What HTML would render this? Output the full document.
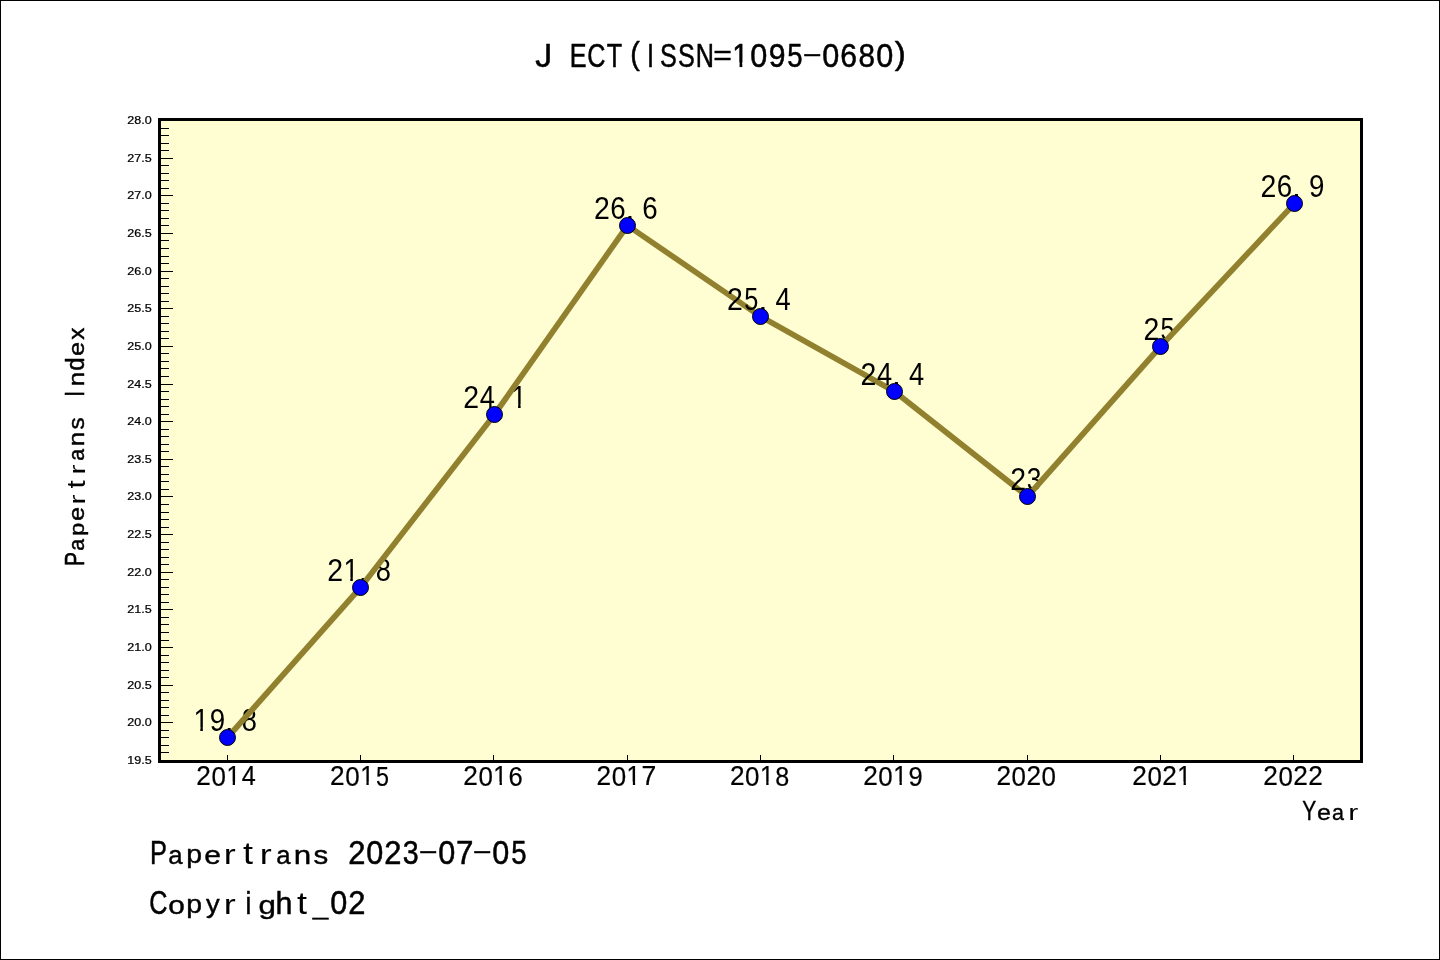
<!DOCTYPE html>
<html lang="en"><head><meta charset="utf-8"><title>J ECT(ISSN=1095-0680)</title>
<style>
html,body{margin:0;padding:0;background:#fff}
body{width:1440px;height:960px;overflow:hidden;font-family:"Liberation Sans",sans-serif}
#chart{position:absolute;left:0;top:0;width:1440px;height:960px;box-sizing:border-box;border:1px solid #000;background:#fff}
svg{position:absolute;left:-1px;top:-1px;display:block;will-change:transform;font-family:"Liberation Sans",sans-serif;fill:#000}
</style></head><body>
<div id="chart"><svg width="1440" height="960" viewBox="0 0 1440 960">
<defs><clipPath id="k30"><rect x="0" y="-30" width="30" height="26.25"/><rect x="7.47" y="-4.5" width="2.79" height="5.1"/></clipPath><clipPath id="k32"><rect x="0" y="-32" width="32" height="28"/><rect x="7.968" y="-4.8" width="2.976" height="5.44"/></clipPath><clipPath id="k36"><rect x="0" y="-36" width="36" height="31.5"/><rect x="8.964" y="-5.4" width="3.348" height="6.12"/></clipPath><clipPath id="kJ"><rect x="11.6" y="-36" width="12" height="40"/><rect x="-2" y="-21.5" width="20" height="26"/></clipPath></defs>
<rect x="159.5" y="119.5" width="1202" height="642" fill="#fffdd2" stroke="#000" stroke-width="3"/>
<path d="M161 752.5H169M161 745.5H169M161 737.5H169M161 730.5H169M161 722.5H173M161 715.5H169M161 707.5H169M161 700.5H169M161 692.5H169M161 685.5H173M161 677.5H169M161 670.5H169M161 662.5H169M161 655.5H169M161 647.5H173M161 640.5H169M161 632.5H169M161 624.5H169M161 617.5H169M161 609.5H173M161 602.5H169M161 594.5H169M161 587.5H169M161 579.5H169M161 572.5H173M161 564.5H169M161 557.5H169M161 549.5H169M161 542.5H169M161 534.5H173M161 527.5H169M161 519.5H169M161 512.5H169M161 504.5H169M161 496.5H173M161 489.5H169M161 481.5H169M161 474.5H169M161 466.5H169M161 459.5H173M161 451.5H169M161 444.5H169M161 436.5H169M161 429.5H169M161 421.5H173M161 414.5H169M161 406.5H169M161 399.5H169M161 391.5H169M161 384.5H173M161 376.5H169M161 368.5H169M161 361.5H169M161 353.5H169M161 346.5H173M161 338.5H169M161 331.5H169M161 323.5H169M161 316.5H169M161 308.5H173M161 301.5H169M161 293.5H169M161 286.5H169M161 278.5H169M161 271.5H173M161 263.5H169M161 256.5H169M161 248.5H169M161 240.5H169M161 233.5H173M161 225.5H169M161 218.5H169M161 210.5H169M161 203.5H169M161 195.5H173M161 188.5H169M161 180.5H169M161 173.5H169M161 165.5H169M161 158.5H173M161 150.5H169M161 143.5H169M161 135.5H169M161 128.5H169M227.5 755V760M360.5 755V760M493.5 755V760M627.5 755V760M760.5 755V760M893.5 755V760M1027.5 755V760M1160.5 755V760M1293.5 755V760" stroke="#000" stroke-width="1" fill="none" shape-rendering="crispEdges"/>
<g font-size="11.4" text-anchor="end" stroke="#000" stroke-width="0.25"><text transform="matrix(1.1 0 0 1 151.6 763.9)">19.5</text><text transform="matrix(1.1 0 0 1 151.6 725.9)">20.0</text><text transform="matrix(1.1 0 0 1 151.6 688.9)">20.5</text><text transform="matrix(1.1 0 0 1 151.6 650.9)">21.0</text><text transform="matrix(1.1 0 0 1 151.6 612.9)">21.5</text><text transform="matrix(1.1 0 0 1 151.6 575.9)">22.0</text><text transform="matrix(1.1 0 0 1 151.6 537.9)">22.5</text><text transform="matrix(1.1 0 0 1 151.6 499.9)">23.0</text><text transform="matrix(1.1 0 0 1 151.6 462.9)">23.5</text><text transform="matrix(1.1 0 0 1 151.6 424.9)">24.0</text><text transform="matrix(1.1 0 0 1 151.6 387.9)">24.5</text><text transform="matrix(1.1 0 0 1 151.6 349.9)">25.0</text><text transform="matrix(1.1 0 0 1 151.6 311.9)">25.5</text><text transform="matrix(1.1 0 0 1 151.6 274.9)">26.0</text><text transform="matrix(1.1 0 0 1 151.6 236.9)">26.5</text><text transform="matrix(1.1 0 0 1 151.6 198.9)">27.0</text><text transform="matrix(1.1 0 0 1 151.6 161.9)">27.5</text><text transform="matrix(1.1 0 0 1 151.6 123.9)">28.0</text></g>
<g aria-label="2014" font-size="30" stroke="#000" stroke-width="0.24" stroke-linejoin="round"><text transform="matrix(0.874 0 0 0.935 196.353 785.188)">2</text><text transform="matrix(0.864 0 0 0.95 211.508 785.508)">0</text><text transform="matrix(0.833 0 0 0.934 226.467 785.188)" clip-path="url(#k30)">1</text><text transform="matrix(0.84 0 0 0.934 241.789 785.188)">4</text></g>
<g aria-label="2015" font-size="30" stroke="#000" stroke-width="0.24" stroke-linejoin="round"><text transform="matrix(0.874 0 0 0.935 330.062 785.188)">2</text><text transform="matrix(0.864 0 0 0.95 345.216 785.508)">0</text><text transform="matrix(0.833 0 0 0.934 360.175 785.188)" clip-path="url(#k30)">1</text><text transform="matrix(0.778 0 0 0.949 376.034 785.508)">5</text></g>
<g aria-label="2016" font-size="30" stroke="#000" stroke-width="0.24" stroke-linejoin="round"><text transform="matrix(0.874 0 0 0.935 463.245 785.188)">2</text><text transform="matrix(0.864 0 0 0.95 478.399 785.508)">0</text><text transform="matrix(0.833 0 0 0.934 493.358 785.188)" clip-path="url(#k30)">1</text><text transform="matrix(0.852 0 0 0.95 508.412 785.508)">6</text></g>
<g aria-label="2017" font-size="30" stroke="#000" stroke-width="0.24" stroke-linejoin="round"><text transform="matrix(0.874 0 0 0.935 596.503 785.188)">2</text><text transform="matrix(0.864 0 0 0.95 611.658 785.508)">0</text><text transform="matrix(0.833 0 0 0.934 626.617 785.188)" clip-path="url(#k30)">1</text><text transform="matrix(0.886 0 0 0.934 641.46 785.188)">7</text></g>
<g aria-label="2018" font-size="30" stroke="#000" stroke-width="0.24" stroke-linejoin="round"><text transform="matrix(0.874 0 0 0.935 729.912 785.188)">2</text><text transform="matrix(0.864 0 0 0.95 745.066 785.508)">0</text><text transform="matrix(0.833 0 0 0.934 760.025 785.188)" clip-path="url(#k30)">1</text><text transform="matrix(0.838 0 0 0.95 775.283 785.508)">8</text></g>
<g aria-label="2019" font-size="30" stroke="#000" stroke-width="0.24" stroke-linejoin="round"><text transform="matrix(0.874 0 0 0.935 863.17 785.188)">2</text><text transform="matrix(0.864 0 0 0.95 878.324 785.508)">0</text><text transform="matrix(0.833 0 0 0.934 893.283 785.188)" clip-path="url(#k30)">1</text><text transform="matrix(0.851 0 0 0.95 908.588 785.508)">9</text></g>
<g aria-label="2020" font-size="30" stroke="#000" stroke-width="0.24" stroke-linejoin="round"><text transform="matrix(0.874 0 0 0.935 996.428 785.188)">2</text><text transform="matrix(0.864 0 0 0.95 1011.583 785.508)">0</text><text transform="matrix(0.874 0 0 0.935 1026.428 785.188)">2</text><text transform="matrix(0.864 0 0 0.95 1041.583 785.508)">0</text></g>
<g aria-label="2021" font-size="30" stroke="#000" stroke-width="0.24" stroke-linejoin="round"><text transform="matrix(0.874 0 0 0.935 1132.237 785.188)">2</text><text transform="matrix(0.864 0 0 0.95 1147.391 785.508)">0</text><text transform="matrix(0.874 0 0 0.935 1162.237 785.188)">2</text><text transform="matrix(0.833 0 0 0.934 1177.35 785.188)" clip-path="url(#k30)">1</text></g>
<g aria-label="2022" font-size="30" stroke="#000" stroke-width="0.24" stroke-linejoin="round"><text transform="matrix(0.874 0 0 0.935 1263.245 785.188)">2</text><text transform="matrix(0.864 0 0 0.95 1278.399 785.508)">0</text><text transform="matrix(0.874 0 0 0.935 1293.245 785.188)">2</text><text transform="matrix(0.874 0 0 0.935 1308.245 785.188)">2</text></g>
<g aria-label="19.8" font-size="32" stroke="#000" stroke-width="0" stroke-linejoin="round"><text transform="matrix(0.861 0 0 0.988 193.433 731.1)" clip-path="url(#k32)" stroke="none">1</text><text transform="matrix(0.866 0 0 1.003 209.818 731.427)" stroke="none">9</text><text transform="matrix(0.998 0 0 0.888 224.841 731.1)" stroke="none">.</text><text transform="matrix(0.852 0 0 1.003 241.771 731.427)" stroke="none">8</text></g>
<path d="M227.5 737.5L360.5 587.5" stroke="#91812f" stroke-width="5.7" fill="none"/>
<g aria-label="21.8" font-size="32" stroke="#000" stroke-width="0" stroke-linejoin="round"><text transform="matrix(0.889 0 0 0.988 327.339 581.1)" stroke="none">2</text><text transform="matrix(0.861 0 0 0.988 343.406 581.1)" clip-path="url(#k32)" stroke="none">1</text><text transform="matrix(0.998 0 0 0.888 358.815 581.1)" stroke="none">.</text><text transform="matrix(0.852 0 0 1.003 375.745 581.427)" stroke="none">8</text></g>
<path d="M360.5 587.5L494.5 414.5" stroke="#91812f" stroke-width="5.7" fill="none"/>
<g aria-label="24.1" font-size="32" stroke="#000" stroke-width="0" stroke-linejoin="round"><text transform="matrix(0.889 0 0 0.988 463.153 408.1)" stroke="none">2</text><text transform="matrix(0.853 0 0 0.988 479.637 408.1)" stroke="none">4</text><text transform="matrix(0.998 0 0 0.888 494.628 408.1)" stroke="none">.</text><text transform="matrix(0.861 0 0 0.988 511.219 408.1)" clip-path="url(#k32)" stroke="none">1</text></g>
<path d="M494.5 414.5L627.5 225.5" stroke="#91812f" stroke-width="5.7" fill="none"/>
<g aria-label="26.6" font-size="32" stroke="#000" stroke-width="0" stroke-linejoin="round"><text transform="matrix(0.889 0 0 0.988 594.006 219.1)" stroke="none">2</text><text transform="matrix(0.867 0 0 1.003 610.188 219.427)" stroke="none">6</text><text transform="matrix(0.998 0 0 0.888 625.481 219.1)" stroke="none">.</text><text transform="matrix(0.867 0 0 1.003 642.188 219.427)" stroke="none">6</text></g>
<path d="M627.5 225.5L760.5 316.5" stroke="#91812f" stroke-width="5.7" fill="none"/>
<g aria-label="25.4" font-size="32" stroke="#000" stroke-width="0" stroke-linejoin="round"><text transform="matrix(0.889 0 0 0.988 727.099 310.1)" stroke="none">2</text><text transform="matrix(0.791 0 0 1.003 744.157 310.426)" stroke="none">5</text><text transform="matrix(0.998 0 0 0.888 758.575 310.1)" stroke="none">.</text><text transform="matrix(0.853 0 0 0.988 775.583 310.1)" stroke="none">4</text></g>
<path d="M760.5 316.5L894.5 391.5" stroke="#91812f" stroke-width="5.7" fill="none"/>
<g aria-label="24.4" font-size="32" stroke="#000" stroke-width="0" stroke-linejoin="round"><text transform="matrix(0.889 0 0 0.988 860.433 385.1)" stroke="none">2</text><text transform="matrix(0.853 0 0 0.988 876.917 385.1)" stroke="none">4</text><text transform="matrix(0.998 0 0 0.888 891.908 385.1)" stroke="none">.</text><text transform="matrix(0.853 0 0 0.988 908.917 385.1)" stroke="none">4</text></g>
<path d="M894.5 391.5L1027.5 496.5" stroke="#91812f" stroke-width="5.7" fill="none"/>
<g aria-label="23" font-size="32" stroke="#000" stroke-width="0" stroke-linejoin="round"><text transform="matrix(0.889 0 0 0.988 1010.166 490.1)" stroke="none">2</text><text transform="matrix(0.823 0 0 1.003 1026.754 490.427)" stroke="none">3</text></g>
<path d="M1027.5 496.5L1160.5 346.5" stroke="#91812f" stroke-width="5.7" fill="none"/>
<g aria-label="25" font-size="32" stroke="#000" stroke-width="0" stroke-linejoin="round"><text transform="matrix(0.889 0 0 0.988 1143.499 340.1)" stroke="none">2</text><text transform="matrix(0.791 0 0 1.003 1160.557 340.426)" stroke="none">5</text></g>
<path d="M1160.5 346.5L1294.5 203.5" stroke="#91812f" stroke-width="5.7" fill="none"/>
<g aria-label="26.9" font-size="32" stroke="#000" stroke-width="0" stroke-linejoin="round"><text transform="matrix(0.889 0 0 0.988 1260.593 197.1)" stroke="none">2</text><text transform="matrix(0.867 0 0 1.003 1276.775 197.427)" stroke="none">6</text><text transform="matrix(0.998 0 0 0.888 1292.068 197.1)" stroke="none">.</text><text transform="matrix(0.866 0 0 1.003 1309.044 197.427)" stroke="none">9</text></g>
<circle cx="227.5" cy="737.5" r="8" fill="#00f" stroke="#000" stroke-width="1"/>
<circle cx="360.5" cy="587.5" r="8" fill="#00f" stroke="#000" stroke-width="1"/>
<circle cx="494.5" cy="414.5" r="8" fill="#00f" stroke="#000" stroke-width="1"/>
<circle cx="627.5" cy="225.5" r="8" fill="#00f" stroke="#000" stroke-width="1"/>
<circle cx="760.5" cy="316.5" r="8" fill="#00f" stroke="#000" stroke-width="1"/>
<circle cx="894.5" cy="391.5" r="8" fill="#00f" stroke="#000" stroke-width="1"/>
<circle cx="1027.5" cy="496.5" r="8" fill="#00f" stroke="#000" stroke-width="1"/>
<circle cx="1160.5" cy="346.5" r="8" fill="#00f" stroke="#000" stroke-width="1"/>
<circle cx="1294.5" cy="203.5" r="8" fill="#00f" stroke="#000" stroke-width="1"/>
<g aria-label="J ECT(ISSN=1095-0680)" font-size="36" stroke="#000" stroke-width="0.576" stroke-linejoin="round"><text transform="matrix(0.939 0 0 0.902 535.362 66.611)" clip-path="url(#kJ)">J</text> <text transform="matrix(0.7 0 0 0.903 569.852 66.64)">E</text><text transform="matrix(0.7 0 0 0.901 587.327 66.612)">C</text><text transform="matrix(0.7 0 0 0.903 606.86 66.64)">T</text><text transform="matrix(0.8 0 0 0.855 630.364 63.523)">(</text><text transform="matrix(0.7 0 0 0.903 646.959 66.64)">I</text><text transform="matrix(0.7 0 0 0.901 659.972 66.612)">S</text><text transform="matrix(0.7 0 0 0.901 677.972 66.612)">S</text><text transform="matrix(0.7 0 0 0.903 695.805 66.64)">N</text><text transform="matrix(0.887 0 0 0.777 713.237 64.537)">=</text><text transform="matrix(0.808 0 0 0.923 732.321 66.634)" clip-path="url(#k36)">1</text><text transform="matrix(0.85 0 0 0.939 750.309 67.019)">0</text><text transform="matrix(0.837 0 0 0.939 768.629 67.019)">9</text><text transform="matrix(0.765 0 0 0.939 787.278 67.02)">5</text><text transform="matrix(1.711 0 0 0.637 802.116 60.756)">-</text><text transform="matrix(0.85 0 0 0.939 822.309 67.019)">0</text><text transform="matrix(0.838 0 0 0.939 840.33 67.019)">6</text><text transform="matrix(0.824 0 0 0.939 858.568 67.019)">8</text><text transform="matrix(0.85 0 0 0.939 876.309 67.019)">0</text><text transform="matrix(0.918 0 0 0.855 894.863 63.523)">)</text></g>
<g aria-label="Year" font-size="30" stroke="#000" stroke-width="0.48" stroke-linejoin="round"><text transform="matrix(0.7 0 0 0.903 1302.197 820.083)">Y</text><text transform="matrix(0.833 0 0 0.732 1316.919 820.15)">e</text><text transform="matrix(0.717 0 0 0.732 1332.008 820.15)">a</text><text transform="matrix(1 0 0 0.743 1348.158 820.3)" stroke="none">r</text></g>
<g aria-label="Papertrans Index" font-size="30" stroke="#000" stroke-width="0.63" stroke-linejoin="round" transform="translate(84.6 566) rotate(-90)"><text transform="matrix(0.7 0 0 0.897 -0.021 -0.283)">P</text><text transform="matrix(0.711 0 0 0.726 15.368 -0.201)">a</text><text transform="matrix(0.78 0 0 0.692 30.328 -0.775)">p</text><text transform="matrix(0.824 0 0 0.726 45.289 -0.201)">e</text><text transform="matrix(1 0 0 0.743 61.458 0)" stroke="none">r</text><text transform="matrix(1 0 0 0.879 77.465 -0.056)" stroke="none">t</text><text transform="matrix(1 0 0 0.743 91.458 0)" stroke="none">r</text><text transform="matrix(0.711 0 0 0.726 105.368 -0.201)">a</text><text transform="matrix(0.861 0 0 0.724 119.875 -0.228)">n</text><text transform="matrix(0.81 0 0 0.728 136.379 -0.203)">s</text> <text transform="matrix(0.7 0 0 0.897 169.133 -0.283)">I</text><text transform="matrix(0.861 0 0 0.724 179.875 -0.228)">n</text><text transform="matrix(0.797 0 0 0.853 195.297 -0.278)">d</text><text transform="matrix(0.824 0 0 0.726 210.289 -0.201)">e</text><text transform="matrix(0.812 0 0 0.719 226.182 -0.227)">x</text></g>
<g aria-label="Papertrans 2023-07-05" font-size="36" stroke="#000" stroke-width="0.576" stroke-linejoin="round"><text transform="matrix(0.704 0 0 0.903 149.924 863.94)">P</text><text transform="matrix(0.717 0 0 0.732 168.369 864.02)">a</text><text transform="matrix(0.788 0 0 0.696 186.306 863.297)">p</text><text transform="matrix(0.833 0 0 0.732 204.263 864.02)">e</text><text transform="matrix(1 0 0 0.743 223.749 864.2)" stroke="none">r</text><text transform="matrix(1 0 0 0.879 242.958 864.133)" stroke="none">t</text><text transform="matrix(1 0 0 0.743 259.749 864.2)" stroke="none">r</text><text transform="matrix(0.717 0 0 0.732 276.369 864.02)">a</text><text transform="matrix(0.871 0 0 0.731 293.752 863.989)">n</text><text transform="matrix(0.819 0 0 0.734 313.576 864.018)">s</text> <text transform="matrix(0.859 0 0 0.924 348.132 863.934)">2</text><text transform="matrix(0.85 0 0 0.939 366.309 864.319)">0</text><text transform="matrix(0.859 0 0 0.924 384.132 863.934)">2</text><text transform="matrix(0.796 0 0 0.939 402.758 864.319)">3</text><text transform="matrix(1.711 0 0 0.637 418.116 858.056)">-</text><text transform="matrix(0.85 0 0 0.939 438.309 864.319)">0</text><text transform="matrix(0.871 0 0 0.923 456.083 863.934)">7</text><text transform="matrix(1.711 0 0 0.637 472.116 858.056)">-</text><text transform="matrix(0.85 0 0 0.939 492.309 864.319)">0</text><text transform="matrix(0.765 0 0 0.939 511.278 864.32)">5</text></g>
<g aria-label="Copyright_02" font-size="36" stroke="#000" stroke-width="0.576" stroke-linejoin="round"><text transform="matrix(0.7 0 0 0.901 149.327 913.912)">C</text><text transform="matrix(0.828 0 0 0.732 168.175 914.02)">o</text><text transform="matrix(0.788 0 0 0.696 186.306 913.297)">p</text><text transform="matrix(0.762 0 0 0.692 205.953 913.334)">y</text><text transform="matrix(1 0 0 0.743 223.749 914.2)" stroke="none">r</text><text transform="matrix(0.732 0 0 0.859 245.541 913.953)">i</text><text transform="matrix(0.87 0 0 0.717 258.376 913.677)">g</text><text transform="matrix(0.845 0 0 0.859 275.574 913.953)">h</text><text transform="matrix(1 0 0 0.879 296.958 914.133)" stroke="none">t</text><text transform="matrix(0.777 0 0 0.604 312.827 915.393)">_</text><text transform="matrix(0.85 0 0 0.939 330.309 914.319)">0</text><text transform="matrix(0.859 0 0 0.924 348.132 913.934)">2</text></g>
</svg></div>
</body></html>
